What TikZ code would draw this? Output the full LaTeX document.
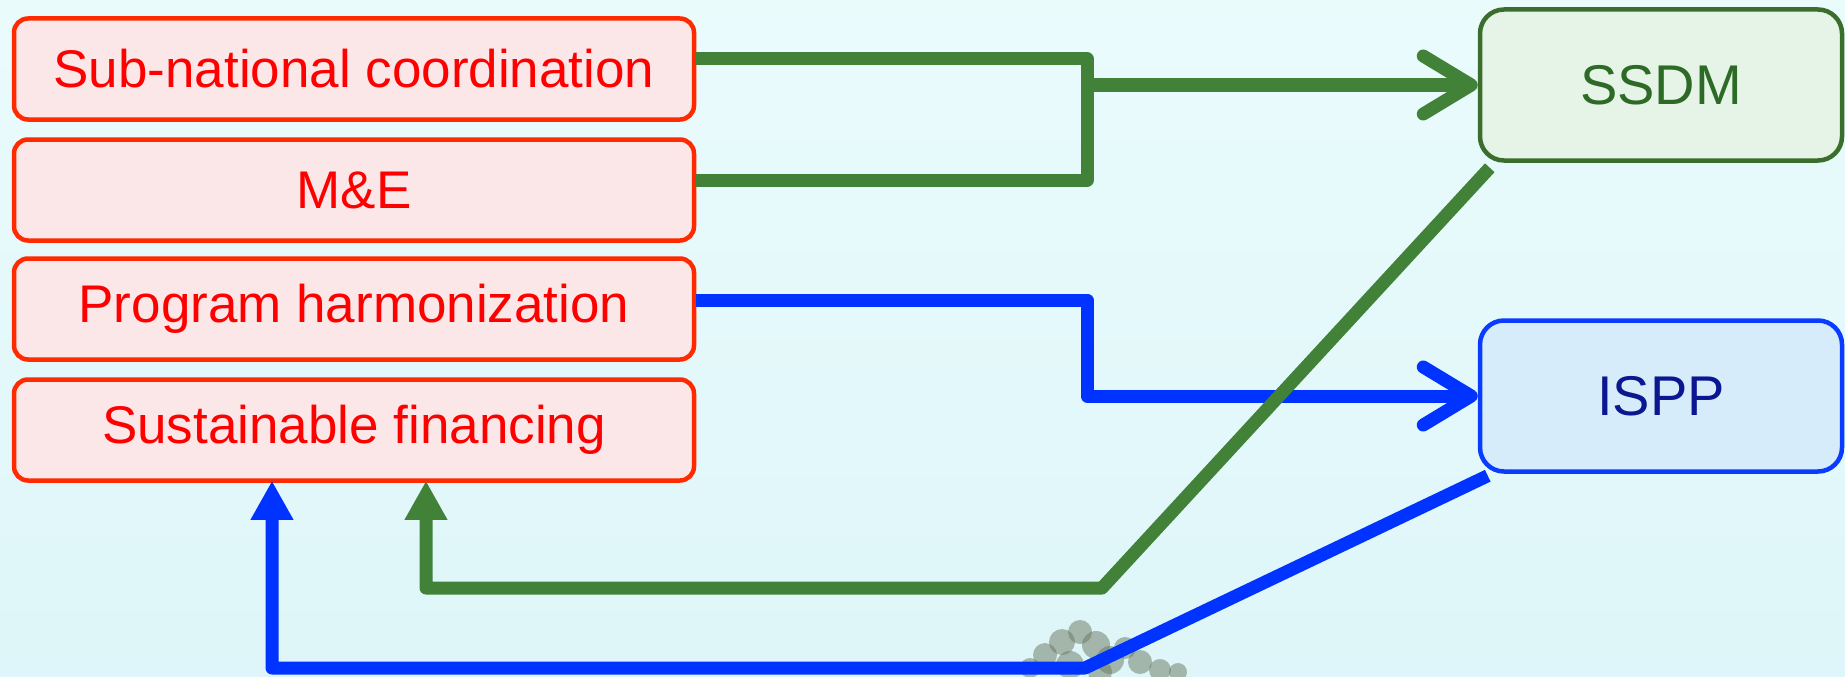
\documentclass[tikz,border=0pt]{standalone}
\usepackage{fontspec}
\setmainfont{Liberation Sans}
\usetikzlibrary{arrows.meta,calc}
\definecolor{bgtop}{HTML}{EAFBFC}
\definecolor{bgmid}{HTML}{F7FEFE}
\definecolor{bgbot}{HTML}{DEF6F9}
\definecolor{lborder}{HTML}{FF2A00}
\definecolor{lfill}{HTML}{FBE6E8}
\definecolor{ltext}{HTML}{FF0000}
\definecolor{gborder}{HTML}{3B6E2D}
\definecolor{gfill}{HTML}{E5F4E6}
\definecolor{gtext}{HTML}{2D6A26}
\definecolor{bborder}{HTML}{0A3CFF}
\definecolor{bfill}{HTML}{D6ECFA}
\definecolor{btext}{HTML}{0A1790}
\definecolor{gline}{HTML}{428238}
\definecolor{bline}{HTML}{0033FF}
\definecolor{tree}{HTML}{6A7860}
\tikzset{
  lbox/.style={draw=lborder, line width=4.5pt, fill=lfill, rounded corners=14pt,
    minimum width=680pt, minimum height=101pt, text=ltext, inner sep=0pt,
    font=\fontsize{53}{60}\selectfont},
  rbox/.style={line width=4.5pt, rounded corners=24pt,
    minimum width=362pt, minimum height=151pt, inner sep=0pt,
    font=\fontsize{56}{64}\selectfont},
  gconn/.style={draw=gline, line width=13pt, line join=round},
  bconn/.style={draw=bline, line width=13pt, line join=round},
  barb/.style={-{Straight Barb[length=48pt,width=58pt,round]}},
  tri/.style={-{Triangle[length=39pt,width=40pt]}}
}
\begin{document}
\begin{tikzpicture}[x=1pt,y=1pt]
\useasboundingbox (0,0) rectangle (1845,-677);
% sky background
\shade[top color=bgtop, middle color=bgmid, bottom color=bgbot] (0,0) rectangle (1845,-677);
% tree
\foreach \x/\y/\r in {1030/-668/10,1045/-655/12,1062/-642/13,1080/-632/12,1096/-645/14,1110/-660/14,1125/-648/11,1140/-662/12,1160/-670/11,1178/-672/9,1070/-665/14,1100/-672/12}
  \fill[tree, opacity=0.5] (\x,\y) circle (\r);

% nodes
\node[lbox] (sub)  at (354,-69)  {Sub-national coordination};
\node[lbox] (me)   at (354,-190) {M\&E};
\node[lbox] (prog) at (354,-309) {Program harmonization};
\node[lbox] (sust) at (354,-430) {Sustainable financing};
\node[rbox, draw=gborder, fill=gfill, text=gtext] (ssdm) at (1661,-85) {SSDM};
\node[rbox, draw=bborder, fill=bfill, text=btext] (ispp) at (1661,-396) {ISPP};

\coordinate (jx) at (1087,0);
\coordinate (meout) at ([yshift=10pt]me.east);
\coordinate (subout) at ([yshift=10pt]sub.east);
\coordinate (progout) at ([yshift=9pt]prog.east);

% blue connectors
\draw[bconn, barb] (progout) -| (jx |- ispp.west) -- (ispp.west);
\coordinate (bc) at (1085,-668);
\draw[bconn, tri] ([shift={(10pt,-2pt)}]ispp.south west) -- (bc) -| ([xshift=-82pt,yshift=2pt]sust.south);

% green connectors
\draw[gconn] (subout) -| (jx |- meout) -- (meout);
\draw[gconn, barb] (jx |- ssdm.west) -- (ssdm.west);
\coordinate (gc) at (1102,-588);
\draw[gconn, tri] ([shift={(12pt,-5pt)}]ssdm.south west) -- (gc) -| ([xshift=72pt,yshift=2pt]sust.south);
\end{tikzpicture}
\end{document}
